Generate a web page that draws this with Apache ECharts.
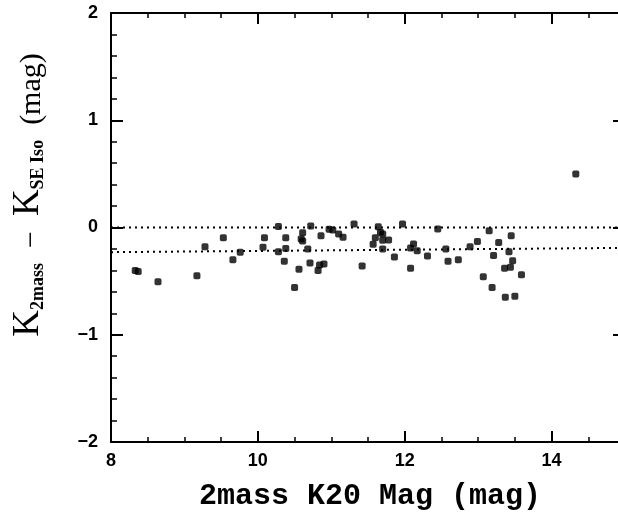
<!DOCTYPE html>
<html>
<head>
<meta charset="utf-8">
<script src="https://cdn.jsdelivr.net/npm/echarts@6/dist/echarts.min.js"></script>
<style>html,body{margin:0;padding:0;background:#fff}#c{width:618px;height:522px}</style>
</head>
<body>
<div id="c"></div>
<script>
var xMag = [8.33,8.37,8.64,9.17,9.28,9.53,9.66,9.76,10.07,10.09,
  10.28,10.28,10.38,10.38,10.36,10.50,10.56,10.61,10.59,10.61,
  10.68,10.71,10.72,10.82,10.84,10.90,10.86,10.97,11.02,11.10,
  11.16,11.31,11.42,11.57,11.60,11.64,11.67,11.70,11.70,11.70,
  11.78,11.86,11.97,12.08,12.12,12.08,12.17,12.31,
  14.33,12.45,12.56,12.59,12.73,12.89,12.99,13.07,13.15,13.21,
  13.19,13.28,13.45,13.42,13.47,13.36,13.44,13.59,13.37,13.50];
var dMag = [-0.40,-0.41,-0.505,-0.45,-0.18,-0.095,-0.30,-0.23,-0.185,-0.095,
  0.01,-0.225,-0.095,-0.195,-0.315,-0.56,-0.39,-0.05,-0.107,-0.126,
  -0.20,-0.33,0.014,-0.40,-0.35,-0.34,-0.076,-0.017,-0.023,-0.06,
  -0.09,0.033,-0.36,-0.157,-0.095,0.008,-0.045,-0.06,-0.12,-0.20,
  -0.117,-0.275,0.033,-0.19,-0.154,-0.38,-0.216,-0.266,
  0.50,-0.014,-0.20,-0.315,-0.30,-0.18,-0.13,-0.46,-0.03,-0.26,
  -0.56,-0.14,-0.076,-0.225,-0.31,-0.38,-0.37,-0.44,-0.65,-0.64];
var zeroLine = [[8,0],[15,0]];
var offsetLine = [[8,-0.23],[15,-0.19]];
var xTicks = [8,10,12,14];
var yTicks = [-2,-1,0,1,2];

var pts = xMag.map(function(x,i){return [x,dMag[i]];});
var chart = echarts.init(document.getElementById('c'), null, {renderer:'canvas'});
var axisLbl = {fontFamily:'Liberation Sans', fontWeight:'bold', fontSize:18, color:'#000'};
function frameAxis(pos, isX){
  return {
    type:'value', position:pos,
    axisLine:{onZero:false, lineStyle:{color:'#000',width:2}},
    axisTick:{inside:true,length:isX?11:12,lineStyle:{color:'#000',width:2}},
    minorTick:{show:true,splitNumber:isX?4:5,length:isX?5:6,lineStyle:{color:'#000',width:1.5}},
    splitLine:{show:false}
  };
}
var xb = Object.assign(frameAxis('bottom',true),{min:8,max:15,interval:2,
  axisLabel:Object.assign({margin:10, formatter:function(v){return xTicks.indexOf(v)>=0?String(v):'';}},axisLbl)});
var xt = Object.assign(frameAxis('top',true),{min:8,max:15,interval:2,axisLabel:{show:false}});
var yl = Object.assign(frameAxis('left',false),{min:-2,max:2,interval:1,
  axisLabel:Object.assign({margin:13, formatter:function(v){return yTicks.indexOf(v)>=0?String(v).replace('-','\u2212'):'';}},axisLbl)});
var yr = Object.assign(frameAxis('right',false),{min:-2,max:2,interval:1,axisLabel:{show:false}});
chart.setOption({
  animation:false,
  backgroundColor:'#fff',
  grid:{left:111, top:13, right:-7, bottom:80, containLabel:false, outerBoundsMode:'none'},
  xAxis:[xb,xt],
  yAxis:[yl,yr],
  series:[
    {type:'line', data:zeroLine, symbol:'none', lineStyle:{color:'#000',width:2,type:[2,4]}, silent:true},
    {type:'line', data:offsetLine, symbol:'none', lineStyle:{color:'#000',width:2,type:[2,4]}, silent:true},
    {type:'scatter', data:pts, symbol:'roundRect', symbolSize:7, itemStyle:{color:'#000'}}
  ],
  graphic:[
    {type:'text', x:27, y:195, rotation:Math.PI/2, style:{
      text:'{k|K}{s|2mass}{m|  \u2212  }{k|K}{s|SE Iso}{m|  (mag)}',
      align:'center', verticalAlign:'middle',
      rich:{
        k:{fontFamily:'Liberation Serif', fontSize:37, color:'#000', verticalAlign:'bottom', lineHeight:40},
        m:{fontFamily:'Liberation Serif', fontSize:30, color:'#000', verticalAlign:'bottom', lineHeight:38},
        s:{fontFamily:'Liberation Serif', fontWeight:'bold', fontSize:18, color:'#000', verticalAlign:'bottom', lineHeight:30}
      }
    }},
    {type:'text', x:370, y:496, style:{
      text:'2mass K20 Mag (mag)', align:'center', verticalAlign:'middle',
      fontFamily:'Liberation Mono', fontWeight:'bold', fontSize:30, color:'#000'
    }}
  ]
});
</script>
</body>
</html>
